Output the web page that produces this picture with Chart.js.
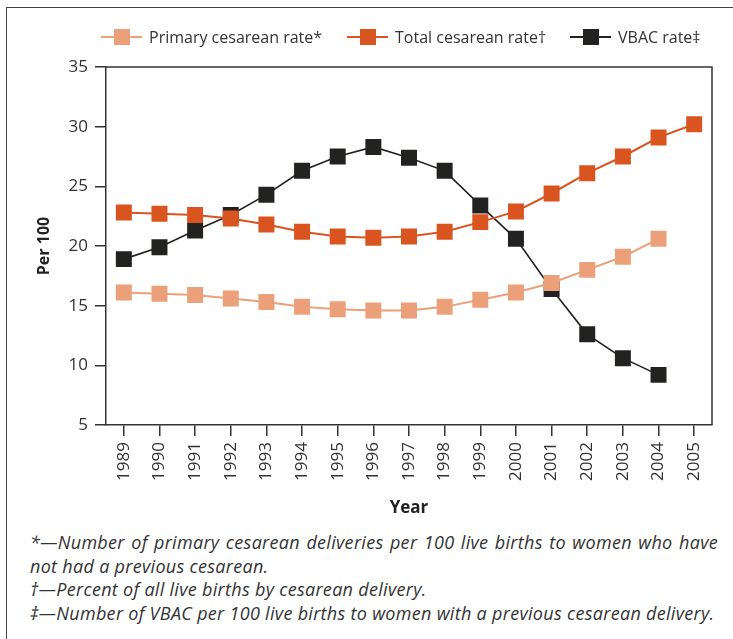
<!DOCTYPE html>
<html>
<head>
<meta charset="utf-8">
<script src="https://cdn.jsdelivr.net/npm/chart.js@4/dist/chart.umd.min.js"></script>
<style>
  html, body { margin:0; padding:0; background:#fff; width:733px; height:639px; overflow:hidden; }
  body { position:relative; font-family:"Open Sans", sans-serif; color:#333; }
  #frame { position:absolute; left:6px; top:7px; width:800px; height:700px; border:1.5px solid #444; box-sizing:border-box; }
  #chart { position:absolute; left:0; top:0; }
  #legend { position:absolute; top:26px; left:0; width:733px; height:22px; }
  .item { position:absolute; top:0; height:22px; display:flex; align-items:center; font-size:16px; color:#333; white-space:nowrap; }
  .sym { position:relative; width:41px; height:22px; margin-right:7px; }
  .sym .ln { position:absolute; left:0; right:0; top:10px; height:2px; }
  .sym .mk { position:absolute; left:13px; top:3px; width:16px; height:16px; }
  #notes { position:absolute; left:30px; top:531px; width:688px; font-style:italic; font-size:18px; letter-spacing:0.3px; line-height:23.7px; color:#333; white-space:nowrap; }
  .j { text-align:justify; text-align-last:justify; white-space:normal; }
</style>
</head>
<body>
<div id="frame"></div>
<canvas id="chart" width="733" height="522"></canvas>
<div id="legend"></div>
<div id="notes">
  <div class="j">*—Number of primary cesarean deliveries per 100 live births to women who have</div>
  <div>not had a previous cesarean.</div>
  <div>†—Percent of all live births by cesarean delivery.</div>
  <div>‡—Number of VBAC per 100 live births to women with a previous cesarean delivery.</div>
</div>
<script>
const years = ["1989","1990","1991","1992","1993","1994","1995","1996","1997","1998","1999","2000","2001","2002","2003","2004","2005"];
const primaryRate = [16.1, 16.0, 15.9, 15.6, 15.3, 14.9, 14.7, 14.6, 14.6, 14.9, 15.5, 16.1, 16.9, 18.0, 19.1, 20.6, null];
const totalRate   = [22.8, 22.7, 22.6, 22.3, 21.8, 21.2, 20.8, 20.7, 20.8, 21.2, 22.0, 22.9, 24.4, 26.1, 27.5, 29.1, 30.2];
const vbacRate    = [18.9, 19.9, 21.3, 22.6, 24.3, 26.3, 27.5, 28.3, 27.4, 26.3, 23.4, 20.6, 16.4, 12.6, 10.6, 9.2, null];
const seriesNames = ["Primary cesarean rate*", "Total cesarean rate\u2020", "VBAC rate\u2021"];
const colors = ["#eca07a", "#d9541f", "#222220"];
const lineWidths = [2, 2, 1.6];
const yTicks = [5, 10, 15, 20, 25, 30, 35];

// legend (HTML text)
const legendX = [101, 347, 570];
const leg = document.getElementById('legend');
seriesNames.forEach((n, i) => {
  const it = document.createElement('div');
  it.className = 'item';
  it.style.left = legendX[i] + 'px';
  it.innerHTML = '<div class="sym"><div class="ln" style="background:' + colors[i] + '"></div><div class="mk" style="background:' + colors[i] + '"></div></div><span>' + n + '</span>';
  leg.appendChild(it);
});

const framePlugin = {
  id: 'frame',
  afterDatasetsDraw(chart) {
    const {ctx, chartArea: a} = chart;
    ctx.save();
    ctx.strokeStyle = '#333';
    ctx.lineWidth = 1.5;
    ctx.beginPath();
    ctx.moveTo(a.left, a.top);
    ctx.lineTo(a.right, a.top);
    ctx.lineTo(a.right, a.bottom);
    ctx.stroke();
    ctx.restore();
  }
};

const R = 11.3;
const datasets = [primaryRate, totalRate, vbacRate].map((d, i) => ({
  label: seriesNames[i],
  data: d,
  borderColor: colors[i],
  backgroundColor: colors[i],
  borderWidth: lineWidths[i],
  pointStyle: 'rect',
  pointRadius: R,
  pointHoverRadius: R,
  pointBorderWidth: 0,
  tension: 0,
  spanGaps: false
}));

new Chart(document.getElementById('chart'), {
  type: 'line',
  data: { labels: years, datasets },
  plugins: [framePlugin],
  options: {
    responsive: false,
    animation: false,
    events: [],
    layout: { padding: { top: 67, right: 21, left: 0, bottom: 0 } },
    plugins: { legend: { display: false }, tooltip: { enabled: false } },
    scales: {
      x: {
        offset: true,
        afterFit(s) { s.height = 97; },
        grid: { display: true, drawOnChartArea: false, drawTicks: true, tickLength: 11, color: '#333', lineWidth: 1.5, offset: false },
        border: { display: true, color: '#333', width: 1.5 },
        ticks: { minRotation: 90, maxRotation: 90, padding: 6, color: '#333', font: { family: 'Open Sans', size: 17 }, autoSkip: false },
        title: { display: true, text: 'Year', color: '#222', font: { family: 'Open Sans', size: 17, weight: 'bold' }, padding: { top: 4, bottom: 4 } }
      },
      y: {
        min: 5, max: 35,
        afterFit(s) { s.width = 106; },
        afterBuildTicks(s) { s.ticks = yTicks.map(v => ({ value: v })); },
        grid: { display: true, drawOnChartArea: false, drawTicks: true, tickLength: 11, color: '#333', lineWidth: 1.5 },
        border: { display: true, color: '#333', width: 1.5 },
        ticks: { padding: 7, color: '#333', font: { family: 'Open Sans', size: 17 } },
        title: { display: true, text: 'Per 100', color: '#222', font: { family: 'Open Sans', size: 16, weight: 'bold' }, padding: { top: 35, bottom: 0 } }
      }
    }
  }
});
</script>
</body>
</html>
